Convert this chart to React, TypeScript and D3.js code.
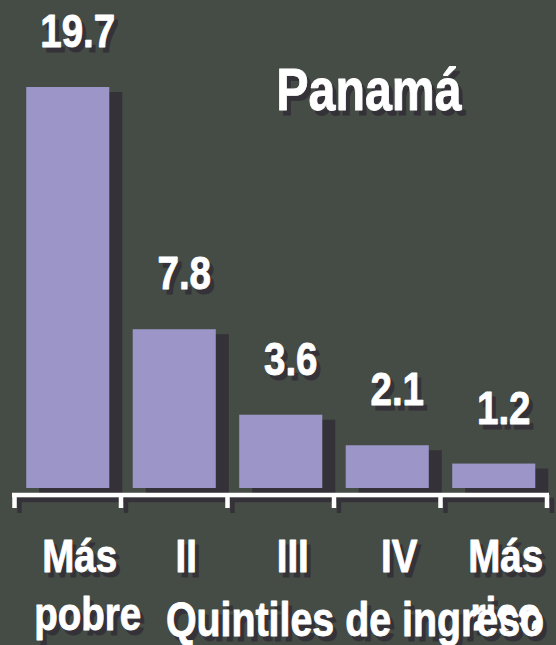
import React from "react";
import * as d3 from "d3";

const categories = ["Más pobre", "II", "III", "IV", "Más rico"];
const categoryLines = [["Más", "pobre"], ["II"], ["III"], ["IV"], ["Más", "rico"]];
const values = [19.7, 7.8, 3.6, 2.1, 1.2];
const valueLabels = ["19.7", "7.8", "3.6", "2.1", "1.2"];
const title = "Panamá";
const axisTitle = "Quintiles de ingreso";

const W = 556;
const H = 645;
const BG = "#444c45";
const BAR = "#9c96c8";
const SHADOW = "#343238";
const FONT = "'Liberation Sans', Arial, sans-serif";
const NARROW = 0.82;

function SText({ x, y, children, size, anchor = "middle", dx = 4, dy = 5 }: any) {
  return (
    <g fontFamily={FONT} fontWeight="bold" fontSize={size} textAnchor={anchor} strokeWidth={0.9} strokeLinejoin="round">
      <text transform={`translate(${x + dx},${y + dy}) scale(${NARROW},1)`} fill={SHADOW} stroke={SHADOW}>{children}</text>
      <text transform={`translate(${x},${y}) scale(${NARROW},1)`} fill="#ffffff" stroke="#ffffff">{children}</text>
    </g>
  );
}

export default function App() {
  const x = d3.scaleBand<string>().domain(categories).range([14.5, 547]).paddingInner(0).paddingOuter(0);
  const y = d3.scaleLinear().domain([0, 19.7]).range([488, 87]);
  const bw = x.bandwidth();
  const barW = bw * 0.78;
  const axisY = 495;
  const ticks = [...categories.map((c) => x(c) as number), 547];

  return (
    <div style={{ position: "fixed", left: 0, top: 0, width: W, height: H }}>
      <svg width={W} height={H} style={{ display: "block" }}>
        <rect x={0} y={0} width={W} height={H} fill={BG} />
        {categories.map((c, i) => {
          const bx = (x(c) as number) + (bw - barW) / 2;
          return (
            <rect key={"s" + c} x={bx + 13} y={y(values[i]) + 5} width={barW} height={axisY - (y(values[i]) + 5)} fill={SHADOW} />
          );
        })}
        {categories.map((c, i) => {
          const bx = (x(c) as number) + (bw - barW) / 2;
          return <rect key={"b" + c} x={bx} y={y(values[i])} width={barW} height={y(0) - y(values[i])} fill={BAR} />;
        })}
        <g stroke={SHADOW} strokeWidth={4.5} fill="none" transform="translate(5,5)">
          <line x1={12} x2={549} y1={axisY} y2={axisY} />
          {ticks.map((t, i) => (
            <line key={i} x1={t} x2={t} y1={axisY} y2={508} />
          ))}
        </g>
        <g stroke="#ffffff" strokeWidth={4.5} fill="none">
          <line x1={12} x2={549} y1={axisY} y2={axisY} />
          {ticks.map((t, i) => (
            <line key={i} x1={t} x2={t} y1={axisY} y2={508} />
          ))}
        </g>
        {categories.map((c, i) => (
          <SText key={"v" + c} x={(x(c) as number) + bw / 2 + 10} y={y(values[i]) - 40} size={47}>
            {valueLabels[i]}
          </SText>
        ))}
        <SText x={369} y={110} size={59}>{title}</SText>
        {categories.map((c, i) =>
          categoryLines[i].map((line, j) => (
            <SText key={c + j} x={(x(c) as number) + bw / 2 + 12 + (j === 1 && i === 0 ? 8 : 0)} y={572 + j * 58} size={47}>
              {line}
            </SText>
          ))
        )}
        <SText x={355} y={636} size={48}>{axisTitle}</SText>
      </svg>
    </div>
  );
}
